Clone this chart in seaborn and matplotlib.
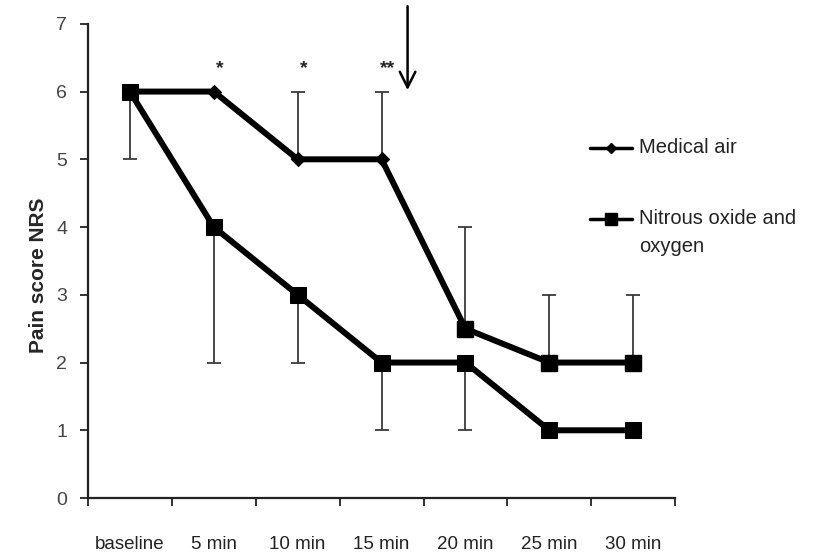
import numpy as np
import pandas as pd
import seaborn as sns
import matplotlib.pyplot as plt
from matplotlib.lines import Line2D

# data
times = ["baseline", "5 min", "10 min", "15 min", "20 min", "25 min", "30 min"]
medical_air = [6, 6, 5, 5, 2.5, 2, 2]
medical_air_upper = [6, 6, 6, 6, 4, 3, 3]
nitrous = [6, 4, 3, 2, 2, 1, 1]
nitrous_lower = [5, 2, 2, 1, 1, 1, 1]
stars = ["", "*", "*", "**", "", "", ""]
series_names = ["Medical air", "Nitrous oxide and\noxygen"]

sns.set_style("white")
plt.rcParams['font.family'] = ['Liberation Sans', 'DejaVu Sans']

df = pd.DataFrame({
    "time": times * 2,
    "score": medical_air + nitrous,
    "group": [series_names[0]] * len(times) + [series_names[1]] * len(times),
})

fig = plt.figure(figsize=(8.19, 5.54), dpi=100)
ax = fig.add_axes([0.1074, 0.101, 0.717, 0.856])

x = np.arange(len(times))
# error bars (air upward, nitrous downward)
ax.errorbar(x, medical_air, yerr=[np.zeros(len(x)), np.array(medical_air_upper) - np.array(medical_air)],
            fmt="none", ecolor="#3a3a3a", elinewidth=1.3, capsize=5, capthick=1.3, zorder=1)
ax.errorbar(x, nitrous, yerr=[np.array(nitrous) - np.array(nitrous_lower), np.zeros(len(x))],
            fmt="none", ecolor="#3a3a3a", elinewidth=1.3, capsize=5, capthick=1.3, zorder=1)

sns.lineplot(data=df, x="time", y="score", hue="group", style="group",
             markers=["D", "s"], dashes=False, palette=["black", "black"],
             linewidth=4.3, markersize=9, markeredgecolor="black",
             legend=False, ax=ax, zorder=3)
# diamond small, square big
for ln in ax.get_lines():
    if ln.get_marker() == "D":
        ln.set_markersize(7)
    elif ln.get_marker() == "s":
        ln.set_markersize(11)
# later points of the air series are drawn as squares in the original
ax.plot(x[4:], medical_air[4:], "s", color="black", markersize=11, zorder=4)

for i, s in enumerate(stars):
    if s:
        ax.text(x[i] + 0.07, 6.22, s, ha="center", va="bottom", fontsize=14, fontweight="bold")

ax.annotate("", xy=(3.31, 5.98), xytext=(3.31, 7.3), annotation_clip=False,
            arrowprops=dict(arrowstyle="->", lw=1.8, color="black", mutation_scale=28))

ax.set_xlim(-0.5, 6.5)
ax.set_ylim(0, 7)
ax.set_yticks(range(0, 8))
ax.set_xticks(np.arange(-0.5, 7, 1))
ax.set_xticklabels([])
ax.set_xticks(x, minor=True)
ax.set_xticklabels(times, minor=True)
ax.tick_params(axis="x", which="major", direction="out", length=6, width=1.3, color="#222222", bottom=True)
ax.tick_params(axis="x", which="minor", length=0, pad=27, labelsize=13.5, labelcolor="#222222")
ax.tick_params(axis="y", direction="out", length=6, width=1.3, color="#222222", left=True,
               labelsize=14, labelcolor="#444444", pad=9)
for side in ["top", "right"]:
    ax.spines[side].set_visible(False)
for side in ["left", "bottom"]:
    ax.spines[side].set_color("#222222")
    ax.spines[side].set_linewidth(1.6)
ax.set_xlabel("")
ax.set_ylabel("Pain score NRS", fontsize=15, fontweight="bold")
ax.yaxis.set_label_coords(-0.068, 0.47)

# legend drawn by hand so the handle sits on the first text line
leg_items = [(series_names[0], "D", 5, 0.733), (series_names[1], "s", 9, 0.604)]
for name, mk, ms, yy in leg_items:
    fig.add_artist(Line2D([0.721, 0.772], [yy, yy], color="black", lw=2.5,
                          marker=mk, markersize=ms, markevery=[], transform=fig.transFigure))
    fig.add_artist(Line2D([0.7465], [yy], color="black", marker=mk, markersize=ms,
                          transform=fig.transFigure))
    fig.text(0.78, yy + 0.018, name, ha="left", va="top", fontsize=14.5, linespacing=1.55,
             color="#222222")

plt.savefig("out.png", dpi=100)
